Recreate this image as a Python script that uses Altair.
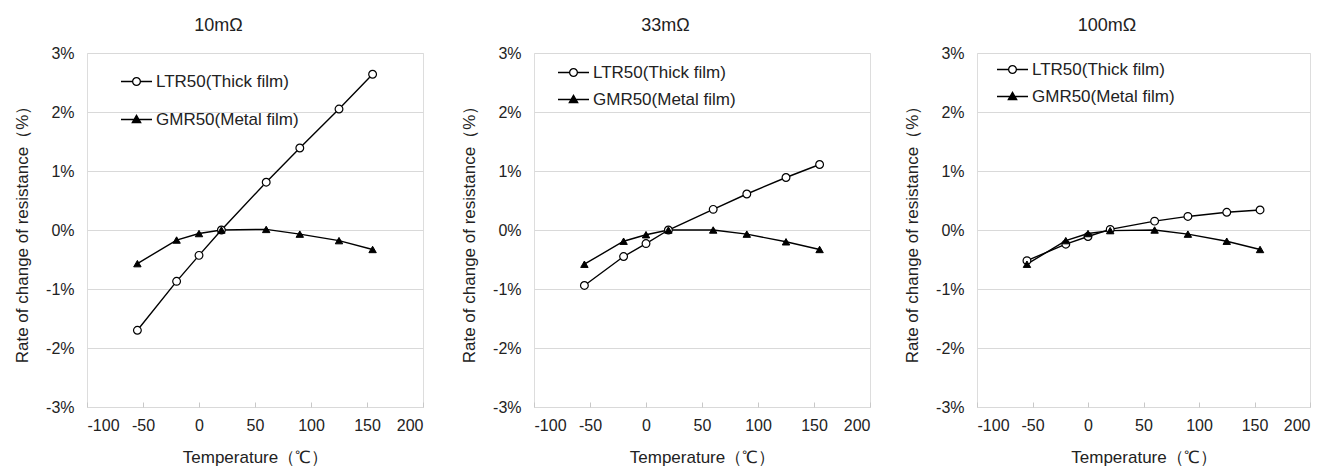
import altair as alt
import pandas as pd

# ---------------- data ----------------
temps = [-55, -20, 0, 20, 60, 90, 125, 155]
series_names = ["LTR50(Thick film)", "GMR50(Metal film)"]
panel_titles = ["10mΩ", "33mΩ", "100mΩ"]

ltr_10 = [-1.70, -0.87, -0.43, 0.00, 0.81, 1.39, 2.05, 2.64]
gmr_10 = [-0.57, -0.17, -0.06, 0.00, 0.01, -0.07, -0.18, -0.33]
ltr_33 = [-0.94, -0.45, -0.23, 0.00, 0.35, 0.61, 0.89, 1.11]
gmr_33 = [-0.58, -0.19, -0.08, 0.00, 0.00, -0.07, -0.20, -0.33]
ltr_100 = [-0.52, -0.24, -0.11, 0.01, 0.15, 0.23, 0.30, 0.34]
gmr_100 = [-0.58, -0.18, -0.06, -0.01, 0.00, -0.07, -0.19, -0.33]

x_ticks = [-100, -50, 0, 50, 100, 150, 200]
y_ticks = [-3, -2, -1, 0, 1, 2, 3]
x_title = "Temperature（℃）"
y_title = "Rate of change of resistance（%）"

# ---------------- styles ----------------
FONT = "Liberation Sans"
TEXT = "#222222"
GRID = "#d9d9d9"
FRAME = "#c8c8c8"
WIDTHS = [336, 336, 333]
H = 354

circle_path = ("M-1,0L-0.25,0M0.25,0L1,0"
               "M-0.25,0A0.25,0.25 0 1 1 0.25,0A0.25,0.25 0 1 1 -0.25,0Z")
tri_path = "M-1,0L1,0M0,-0.27L0.27,0.2L-0.27,0.2Z"

legend_pos = [(33, 12), (23, 3), (19, 0)]
legend_rowpad = [13, 2, 2]


def make_legend(lpos, rowpad):
    return alt.Legend(
        title=None, orient="none", legendX=lpos[0], legendY=lpos[1],
        padding=0, rowPadding=rowpad, labelFontSize=17, labelFont=FONT,
        labelColor=TEXT, labelOffset=3, symbolSize=961,
        symbolStrokeWidth=1.3, symbolOpacity=1, labelLimit=400,
    )


def panel(title, ltr, gmr, lpos, rowpad, width):
    df = pd.DataFrame({
        "temp": temps + temps,
        "val": ltr + gmr,
        "series": [series_names[0]] * len(temps) + [series_names[1]] * len(temps),
    })
    x = alt.X(
        "temp:Q",
        scale=alt.Scale(domain=[-100, 200], nice=False, zero=False),
        axis=alt.Axis(
            values=x_ticks, title=x_title, grid=False, domain=False,
            ticks=True, tickSize=5, tickColor=FRAME, tickWidth=1, offset=-5,
            labelPadding=10, labelExpr="'' + datum.value",
            labelFontSize=16, labelFont=FONT, labelColor=TEXT,
            titleFontSize=17, titleFont=FONT, titleColor=TEXT,
            titleFontWeight="normal", titlePadding=16,
        ),
    )
    y = alt.Y(
        "val:Q",
        scale=alt.Scale(domain=[-3, 3], nice=False, zero=False),
        axis=alt.Axis(
            values=y_ticks, title=y_title, grid=True, gridColor=GRID,
            gridWidth=1.2, domain=False, ticks=False, labelPadding=13,
            labelExpr="datum.value + '%'",
            labelFontSize=16, labelFont=FONT, labelColor=TEXT,
            titleFontSize=17, titleFont=FONT, titleColor=TEXT,
            titleFontWeight="normal", titlePadding=14,
        ),
    )
    base = alt.Chart(df)
    lines = base.mark_line(color="black", strokeWidth=1.4).encode(
        x=x, y=y, detail="series:N"
    )
    circles = base.transform_filter(
        alt.datum.series == series_names[0]
    ).mark_point(shape="circle", filled=False, fill="white", fillOpacity=1,
                 stroke="black", strokeWidth=1.2, size=60, opacity=1).encode(x=x, y=y)
    tris = base.transform_filter(
        alt.datum.series == series_names[1]
    ).mark_point(shape="triangle-up", filled=True, fill="black",
                 stroke="black", strokeWidth=1, size=55, opacity=1).encode(x=x, y=y)
    leg = make_legend(lpos, rowpad)
    legend = base.transform_filter("false").mark_point(
        filled=False, strokeWidth=1.3, size=961, opacity=1
    ).encode(
        x=x, y=y,
        shape=alt.Shape(
            "series:N",
            scale=alt.Scale(domain=series_names, range=[circle_path, tri_path]),
            legend=leg,
        ),
        fill=alt.Fill(
            "series:N",
            scale=alt.Scale(domain=series_names, range=["white", "black"]),
            legend=leg,
        ),
        stroke=alt.Stroke(
            "series:N",
            scale=alt.Scale(domain=series_names, range=["black", "black"]),
            legend=leg,
        ),
    )
    return alt.layer(lines, circles, tris, legend).properties(
        width=width, height=H,
        title=alt.TitleParams(title, fontSize=18, font=FONT, color=TEXT,
                              fontWeight="normal", anchor="middle",
                              frame="bounds", offset=10),
    )


charts = [
    panel(panel_titles[0], ltr_10, gmr_10, legend_pos[0], legend_rowpad[0], WIDTHS[0]),
    panel(panel_titles[1], ltr_33, gmr_33, legend_pos[1], legend_rowpad[1], WIDTHS[1]),
    panel(panel_titles[2], ltr_100, gmr_100, legend_pos[2], legend_rowpad[2], WIDTHS[2]),
]

inner = alt.hconcat(charts[0], charts[1], spacing=36).resolve_scale(
    shape="independent", fill="independent", stroke="independent"
).resolve_legend(
    shape="independent", fill="independent", stroke="independent"
)

chart = alt.hconcat(inner, charts[2], spacing=32).resolve_scale(
    shape="independent", fill="independent", stroke="independent"
).resolve_legend(
    shape="independent", fill="independent", stroke="independent"
).properties(
    padding={"left": 5, "top": 8, "right": 5, "bottom": 5}
).configure_view(
    stroke=FRAME, strokeWidth=1.5
).configure(background="white")

chart.save("out.html", embed_options={"renderer": "svg", "actions": False})
